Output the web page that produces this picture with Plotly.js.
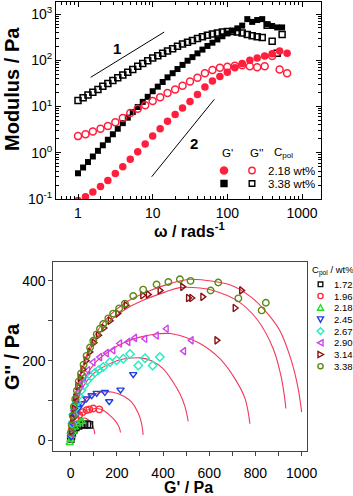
<!DOCTYPE html>
<html>
<head>
<meta charset="utf-8">
<script src="https://cdn.plot.ly/plotly-3.0.1.min.js"></script>
<style>
  body { margin: 0; background: #fff; }
  #chart { width: 353px; height: 496px; }
</style>
</head>
<body>
<div id="chart"></div>
<script>
// top panel: frequency sweep, rad/s
var omegaBlack = [1.00, 1.17, 1.36, 1.58, 1.85, 2.15, 2.51, 2.93, 3.41, 3.98, 4.64, 5.41, 6.31, 7.36, 8.58,
  10.0, 11.7, 13.6, 15.8, 18.5, 21.5, 25.1, 29.3, 34.1, 39.8, 46.4, 54.1, 63.1, 73.6, 85.8,
  100, 117, 136, 158, 185, 215, 251, 293, 341, 398, 464, 541];
var gp338 = [0.36, 0.48, 0.63, 0.83, 1.10, 1.45, 1.91, 2.51, 3.31, 4.37, 5.75, 7.59, 9.77, 12.6, 16.2,
  21.4, 26.9, 33.9, 42.7, 52.5, 64.6, 79.4, 97.7, 117, 141, 170, 204, 240, 282, 331,
  380, 437, 490, 562, 776, 676, 741, 776, 603, 550, 513, 513];
var gpp338 = [13.5, 15.5, 17.8, 20.4, 23.4, 27.5, 31.6, 36.3, 41.7, 47.9, 55.0, 63.1, 74.1, 85.1, 97.7,
  112, 126, 141, 158, 178, 200, 224, 245, 269, 295, 324, 347, 372, 389, 407,
  417, 417, 407, 389, 363, 339, 324, 309, 575, 257, 141, 363];

var omegaRed = [1.00, 1.26, 1.58, 2.00, 2.51, 3.16, 3.98, 5.01, 6.31, 7.94, 10.0, 12.6, 15.8, 20.0, 25.1,
  31.6, 39.8, 50.1, 63.1, 79.4, 100, 126, 158, 200, 251, 316, 398, 501, 631];
var gp218 = [0.093, 0.112, 0.141, 0.186, 0.251, 0.355, 0.501, 0.724, 1.05, 1.55, 2.29, 3.31, 4.79, 6.76, 9.33,
  12.9, 18.2, 26.3, 35.5, 44.7, 55.0, 69.2, 85.1, 100, 112, 123, 138, 158, 141];
var gpp218 = [2.29, 2.51, 2.88, 3.31, 3.80, 4.57, 5.62, 7.24, 8.91, 10.7, 13.2, 15.8, 19.5, 23.4, 28.2,
  34.7, 41.7, 52.5, 61.7, 69.2, 72.4, 75.9, 77.6, 74.1, 70.8, 74.1, 123, 63.1, 52.5];

// bottom panel: Cole-Cole data, G' and G'' in Pa
var concLabels = ['1.72', '1.96', '2.18', '2.45', '2.67', '2.90', '3.14', '3.38'];
var x172 = [1, 3, 7, 13, 22, 34, 47, 60, 72, 81];
var y172 = [4, 12, 20, 27, 33, 37, 39, 40, 40, 39];
var x196 = [2, 5, 11, 23, 37, 52, 69, 81, 98, 124];
var y196 = [11, 28, 40, 55, 64, 71, 76, 78, 80, 78];
var x218 = [-4, 0, 4, 10, 18, 30, 42, 50];
var y218 = [-6, 2, 12, 24, 33, 41, 46, 47];
var x245 = [2, 4, 9, 19, 33, 48, 69, 91, 113, 148, 216, 167, 271];
var y245 = [10, 20, 42, 64, 81, 93, 105, 113, 119, 121, 127, 98, 166];
var x267 = [3, 7, 12, 18, 26, 35, 46, 58, 72, 88, 105, 122, 141, 170, 199, 228, 257, 293, 322, 355, 386];
var y267 = [18, 42, 65, 80, 96, 112, 125, 138, 150, 160, 170, 177, 184, 196, 201, 205, 217, 188, 206, 188, 209];
var x290 = [3, 8, 14, 22, 32, 44, 58, 75, 98, 127, 156, 184, 213, 249, 278, 322, 372, 415, 490, 523];
var y290 = [18, 47, 75, 100, 120, 140, 158, 176, 196, 209, 219, 226, 243, 247, 257, 255, 263, 280, 224, 251];
var x314 = [3, 8, 14, 21, 30, 40, 52, 66, 82, 100, 120, 143, 170, 203, 239, 311, 335, 386, 484, 509, 571, 523, 632, 711, 739];
var y314 = [22, 55, 80, 108, 136, 157, 178, 200, 222, 245, 264, 282, 300, 318, 339, 364, 366, 376, 385, 357, 360, 357, 251, 332, 376];
var x338 = [2, 5, 9, 14, 20, 27, 35, 45, 56, 69, 84, 98, 113, 127, 141, 163, 184, 210, 235, 271, 314, 372, 423, 473, 519, 606, 639, 726, 827, 845];
var y338 = [20, 38, 62, 85, 104, 125, 148, 168, 190, 212, 233, 250, 266, 280, 292, 306, 318, 331, 343, 362, 378, 391, 397, 404, 400, 376, 396, 356, 326, 345];

// fitted arcs
var fitAx = [0, 4, 12, 25, 42, 62, 80, 93, 101, 105];
var fitAy = [0, 22, 38, 48, 54, 56, 50, 40, 28, 16];
var fitBx = [0, 5, 15, 35, 60, 90, 113, 140, 170, 195, 210, 216];
var fitBy = [0, 28, 48, 63, 74, 79, 80, 76, 63, 48, 33, 20];
var fitCx = [0, 8, 25, 50, 85, 130, 184, 230, 264, 290, 305, 314];
var fitCy = [0, 40, 72, 95, 112, 121, 121, 111, 96, 72, 48, 14];
var fitDx = [0, 10, 30, 60, 100, 150, 200, 250, 300, 350, 400, 444, 473, 495, 509];
var fitDy = [0, 60, 105, 140, 168, 187, 200, 206, 207, 200, 180, 146, 117, 85, 48];
var fitEx = [0, 12, 35, 70, 115, 170, 230, 300, 370, 430, 473, 560, 646, 711, 755, 776];
var fitEy = [0, 70, 125, 165, 200, 225, 245, 259, 267, 268, 263, 243, 205, 155, 105, 42];
var fitFx = [0, 10, 30, 64, 106, 162, 232, 316, 410, 473, 560, 617, 719, 805, 877, 913, 932];
var fitFy = [0, 66, 136, 198, 252, 295, 327, 352, 372, 383, 382, 376, 351, 305, 230, 155, 80];
var fitGx = [0, 11, 33, 69, 113, 170, 242, 329, 430, 516, 617, 700, 780, 850, 906, 957, 985, 1000];
var fitGy = [0, 71, 146, 213, 272, 314, 347, 372, 393, 404, 399, 388, 360, 320, 275, 197, 130, 71];

var font = 'Liberation Sans, Arial, sans-serif';
var red = '#ff1e3c';
var fitColor = '#f5365c';

var W = 353, H = 496;
function px(x) { return x / W; }
function py(y) { return (H - y) / H; }

var data = [];
function topTrace(x, y, symbol, color, size, lw) {
  data.push({
    x: x, y: y, xaxis: 'x', yaxis: 'y', type: 'scatter', mode: 'markers',
    marker: { symbol: symbol, color: color, size: size, line: { color: color, width: lw } },
    showlegend: false
  });
}
topTrace(omegaBlack, gp338, 'square', '#000', 6, 0);
topTrace(omegaBlack, gpp338, 'square-open', '#000', 6, 1.5);
topTrace(omegaRed, gp218, 'circle', red, 7.5, 0);
topTrace(omegaRed, gpp218, 'circle-open', red, 7, 1.5);

var fitsX = [fitAx, fitBx, fitCx, fitDx, fitEx, fitFx, fitGx];
var fitsY = [fitAy, fitBy, fitCy, fitDy, fitEy, fitFy, fitGy];
fitsX.forEach(function(fx, i) {
  data.push({
    x: fx, y: fitsY[i], xaxis: 'x2', yaxis: 'y2', type: 'scatter', mode: 'lines',
    line: { color: fitColor, width: 1.1, shape: 'spline', smoothing: 1 },
    showlegend: false
  });
});

var ccX = [x172, x196, x218, x245, x267, x290, x314, x338];
var ccY = [y172, y196, y218, y245, y267, y290, y314, y338];
var ccSymbols = ['square-open', 'circle-open', 'triangle-up-open', 'triangle-down-open',
  'diamond-open', 'triangle-left-open', 'triangle-right-open', 'circle-open'];
var ccColors = ['#111111', '#ff2a3a', '#22dd22', '#1f3fe0', '#22ecc0', '#cc44ee', '#8b1010', '#5a8a12'];
ccX.forEach(function(cx, i) {
  data.push({
    x: cx, y: ccY[i], xaxis: 'x2', yaxis: 'y2', type: 'scatter', mode: 'markers',
    name: concLabels[i],
    marker: { symbol: ccSymbols[i], color: ccColors[i], size: 6.5, line: { color: ccColors[i], width: 1.4 } },
    showlegend: false
  });
});

var tickFont = { family: font, size: 14, color: '#000' };

var layout = {
  width: W, height: H,
  margin: { l: 0, r: 0, t: 0, b: 0 },
  paper_bgcolor: '#fff', plot_bgcolor: '#fff',
  showlegend: false,
  font: { family: font },
  xaxis: {
    type: 'log', domain: [px(56), px(321)], range: [-0.2946, 3.254], anchor: 'y',
    tickvals: [1, 10, 100, 1000], ticktext: ['1', '10', '100', '1000'],
    ticks: 'inside', ticklen: 5, tickcolor: '#000', mirror: 'ticks',
    showline: true, linecolor: '#000', linewidth: 1, showgrid: false, zeroline: false,
    tickfont: tickFont, ticklabelstandoff: 1,
    minor: { ticks: 'inside', ticklen: 3, tickcolor: '#000', dtick: 'D1', showgrid: false }
  },
  yaxis: {
    type: 'log', domain: [py(199), py(2)], range: [-1, 3.26], anchor: 'x',
    tickvals: [0.1, 1, 10, 100, 1000],
    ticktext: ['10<sup>-1</sup>', '10<sup>0</sup>', '10<sup>1</sup>', '10<sup>2</sup>', '10<sup>3</sup>'],
    ticks: 'inside', ticklen: 5, tickcolor: '#000', mirror: 'ticks',
    showline: true, linecolor: '#000', linewidth: 1, showgrid: false, zeroline: false,
    tickfont: tickFont,
    minor: { ticks: 'inside', ticklen: 3, tickcolor: '#000', dtick: 'D1', showgrid: false }
  },
  xaxis2: {
    domain: [px(53.3), px(306.5)], range: [-75, 1021], anchor: 'y2',
    tick0: 0, dtick: 200, ticks: 'outside', ticklen: 4, tickcolor: '#444',
    showline: true, linecolor: '#444', linewidth: 1, mirror: true, showgrid: false, zeroline: false,
    tickfont: tickFont, ticklabelstandoff: 5,
    minor: { ticks: 'outside', ticklen: 4, tickcolor: '#444', dtick: 100, showgrid: false }
  },
  yaxis2: {
    domain: [py(450.7), py(261.7)], range: [-25.6, 448], anchor: 'x2',
    tick0: 0, dtick: 200, ticks: 'outside', ticklen: 4, tickcolor: '#444',
    showline: true, linecolor: '#444', linewidth: 1, mirror: true, showgrid: false, zeroline: false,
    tickfont: tickFont,
    minor: { ticks: 'outside', ticklen: 4, tickcolor: '#444', dtick: 100, showgrid: false }
  },
  // inner ticks on the top and right edges of the lower panel
  xaxis3: {
    overlaying: 'x2', side: 'top', anchor: 'y2', range: [-75, 1021],
    tick0: 0, dtick: 100, ticks: 'inside', ticklen: 4, tickcolor: '#444',
    showticklabels: false, showgrid: false, zeroline: false, showline: false
  },
  yaxis3: {
    overlaying: 'y2', side: 'right', anchor: 'x2', range: [-25.6, 448],
    tick0: 0, dtick: 100, ticks: 'inside', ticklen: 4, tickcolor: '#444',
    showticklabels: false, showgrid: false, zeroline: false, showline: false
  },
  shapes: [],
  annotations: []
};

// slope guides
layout.shapes.push({ type: 'line', xref: 'x', yref: 'y', x0: 1.48, y0: 42.8, x1: 14.3, y1: 408, line: { color: '#000', width: 1 } });
layout.shapes.push({ type: 'line', xref: 'x', yref: 'y', x0: 9.7, y0: 0.303, x1: 66.9, y1: 14.3, line: { color: '#000', width: 1 } });

function note(text, x, y, size, opts) {
  var a = {
    text: text, xref: 'paper', yref: 'paper', x: px(x), y: py(y),
    showarrow: false, font: { family: font, size: size, color: '#000' },
    xanchor: 'center', yanchor: 'middle'
  };
  for (var k in opts) a[k] = opts[k];
  layout.annotations.push(a);
}

note('<b>1</b>', 117, 49, 15);
note('<b>2</b>', 194, 143, 15);
note('<b>Modulus / Pa</b>', 12, 89, 20, { textangle: -90 });
note('<b>ω / rads<sup>-1</sup></b>', 189, 230, 16);
note('<b>G\'\' / Pa</b>', 12, 357, 20, { textangle: -90 });
note('<b>G\' / Pa</b>', 188, 487, 16);

// top legend
note('G\'', 227, 153, 11.5);
note('G\'\'', 256, 153, 11.5);
note('C<sub>pol</sub>', 283, 153, 11.5);
note('2.18 wt%', 266, 170.5, 11.5, { xanchor: 'left' });
note('3.38 wt%', 266, 183.5, 11.5, { xanchor: 'left' });

function mark(type, x, y, color, fill, r, path) {
  var s = {
    type: type, xref: 'paper', yref: 'paper', xsizemode: 'pixel', ysizemode: 'pixel',
    xanchor: px(x), yanchor: py(y),
    fillcolor: fill, line: { color: color, width: 1.4 }
  };
  if (path) s.path = path;
  else { s.x0 = -r; s.x1 = r; s.y0 = -r; s.y1 = r; }
  layout.shapes.push(s);
}
mark('circle', 224, 170.5, red, red, 3.6);
mark('circle', 252, 170.5, red, 'rgba(0,0,0,0)', 3.2);
mark('rect', 224, 183.5, '#000', '#000', 3);
mark('rect', 252, 183.5, '#000', 'rgba(0,0,0,0)', 2.8);

// bottom legend
note('C<sub>pol</sub> / wt%', 309.5, 270.5, 9.5, { xanchor: 'left' });
var glyphPaths = [
  null, null,
  'M-3,-2.5 L3,-2.5 L0,3 Z',
  'M-3,2.5 L3,2.5 L0,-3 Z',
  'M0,3.3 L3.3,0 L0,-3.3 L-3.3,0 Z',
  'M2.5,-3 L2.5,3 L-3,0 Z',
  'M-2.5,-3 L-2.5,3 L3,0 Z',
  null
];
concLabels.forEach(function(lab, i) {
  var yy = 284.3 + 11.7 * i;
  var c = ccColors[i];
  if (i === 0) mark('rect', 320.5, yy, c, 'rgba(0,0,0,0)', 2.3);
  else if (i === 1 || i === 7) mark('circle', 320.5, yy, c, 'rgba(0,0,0,0)', 2.6);
  else mark('path', 320.5, yy, c, 'rgba(0,0,0,0)', 0, glyphPaths[i]);
  note(lab, 331.5, yy, 9.5, { xanchor: 'left' });
});

Plotly.newPlot('chart', data, layout, { staticPlot: true, displayModeBar: false });
</script>
</body>
</html>
